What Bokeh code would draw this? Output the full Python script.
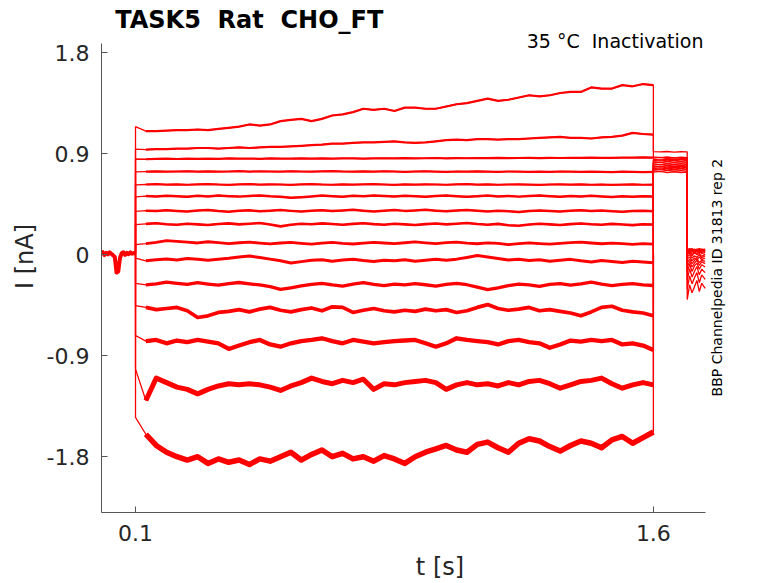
import math
from bokeh.plotting import figure
from bokeh.models import Label, FixedTicker
from bokeh.embed import file_html
from bokeh.resources import INLINE

# holding potential before the step (all sweeps overlap here)
t_hold = [0.000, 0.005, 0.010, 0.015, 0.020, 0.025, 0.030, 0.035, 0.040, 0.045, 0.050,
          0.055, 0.060, 0.065, 0.070, 0.075, 0.080, 0.085, 0.090, 0.095, 0.100]
i_hold = [0.010, 0.022, -0.004, 0.016, 0.003, 0.020, 0.008, -0.006, -0.020, -0.160, -0.150,
          -0.030, 0.012, 0.021, -0.002, 0.016, 0.004, 0.020, 0.008, 0.015, 0.010]

# test pulse, 0.1 s - 1.6 s
t_step = [0.10, 0.13, 0.16, 0.19, 0.22, 0.25, 0.28, 0.31, 0.34, 0.37,
          0.40, 0.43, 0.46, 0.49, 0.52, 0.55, 0.58, 0.61, 0.64, 0.67,
          0.70, 0.73, 0.76, 0.79, 0.82, 0.85, 0.88, 0.91, 0.94, 0.97,
          1.00, 1.03, 1.06, 1.09, 1.12, 1.15, 1.18, 1.21, 1.24, 1.27,
          1.30, 1.33, 1.36, 1.39, 1.42, 1.45, 1.48, 1.51, 1.54, 1.57, 1.60]

sweep_01 = [1.14, 1.10, 1.10, 1.105, 1.11, 1.11, 1.115, 1.11, 1.12, 1.13,
            1.14, 1.16, 1.15, 1.16, 1.19, 1.20, 1.21, 1.19, 1.21, 1.24,
            1.25, 1.27, 1.30, 1.29, 1.30, 1.28, 1.31, 1.31, 1.30, 1.30,
            1.32, 1.34, 1.35, 1.37, 1.39, 1.37, 1.38, 1.40, 1.42, 1.41,
            1.42, 1.44, 1.45, 1.45, 1.49, 1.48, 1.48, 1.51, 1.50, 1.52, 1.51]
sweep_02 = [0.94, 0.935, 0.94, 0.94, 0.945, 0.945, 0.95, 0.95, 0.945, 0.95,
            0.955, 0.95, 0.955, 0.96, 0.96, 0.965, 0.97, 0.975, 0.98, 0.99,
            0.99, 0.995, 1.0, 1.0, 1.005, 1.01, 1.0, 0.995, 1.0, 1.01,
            1.02, 1.025, 1.02, 1.03, 1.03, 1.025, 1.03, 1.03, 1.035, 1.04,
            1.045, 1.05, 1.04, 1.04, 1.035, 1.045, 1.05, 1.06, 1.085, 1.075, 1.07]
sweep_03 = [0.852, 0.850, 0.853, 0.855, 0.852, 0.856, 0.854, 0.855, 0.853, 0.857,
            0.855, 0.856, 0.854, 0.857, 0.855, 0.856, 0.858, 0.855, 0.857, 0.856,
            0.858, 0.857, 0.855, 0.858, 0.859, 0.857, 0.860, 0.858, 0.859, 0.861,
            0.858, 0.860, 0.859, 0.861, 0.860, 0.862, 0.860, 0.861, 0.863, 0.860,
            0.862, 0.861, 0.863, 0.862, 0.864, 0.862, 0.863, 0.865, 0.864, 0.866, 0.865]
sweep_04 = [0.738, 0.740, 0.742, 0.739, 0.741, 0.743, 0.740, 0.742, 0.739, 0.741,
            0.744, 0.740, 0.742, 0.741, 0.739, 0.743, 0.741, 0.740, 0.742, 0.744,
            0.741, 0.739, 0.742, 0.740, 0.743, 0.741, 0.738, 0.741, 0.743, 0.740,
            0.738, 0.741, 0.739, 0.742, 0.740, 0.738, 0.741, 0.739, 0.737, 0.740,
            0.738, 0.741, 0.739, 0.737, 0.740, 0.738, 0.736, 0.739, 0.737, 0.736, 0.738]
sweep_05 = [0.622, 0.625, 0.628, 0.624, 0.627, 0.623, 0.626, 0.629, 0.625, 0.622,
            0.626, 0.628, 0.624, 0.627, 0.625, 0.622, 0.626, 0.629, 0.625, 0.623,
            0.627, 0.624, 0.626, 0.628, 0.625, 0.622, 0.626, 0.624, 0.627, 0.625,
            0.623, 0.626, 0.628, 0.624, 0.626, 0.623, 0.625, 0.627, 0.624, 0.622,
            0.625, 0.627, 0.624, 0.626, 0.623, 0.625, 0.622, 0.624, 0.626, 0.623, 0.624]
sweep_06 = [0.515, 0.522, 0.518, 0.525, 0.520, 0.516, 0.524, 0.519, 0.527, 0.521,
            0.517, 0.523, 0.528, 0.520, 0.515, 0.507, 0.512, 0.519, 0.526, 0.521,
            0.516, 0.524, 0.520, 0.527, 0.522, 0.518, 0.525, 0.521, 0.516, 0.522,
            0.527, 0.520, 0.515, 0.521, 0.526, 0.519, 0.523, 0.517, 0.522, 0.527,
            0.521, 0.516, 0.522, 0.518, 0.524, 0.519, 0.514, 0.520, 0.516, 0.521, 0.517]
sweep_07 = [0.385, 0.392, 0.388, 0.396, 0.390, 0.384, 0.393, 0.398, 0.389, 0.383,
            0.391, 0.395, 0.387, 0.392, 0.398, 0.390, 0.384, 0.392, 0.396, 0.388,
            0.393, 0.399, 0.391, 0.385, 0.392, 0.397, 0.390, 0.394, 0.400, 0.392,
            0.386, 0.393, 0.398, 0.391, 0.385, 0.392, 0.387, 0.380, 0.388, 0.394,
            0.389, 0.384, 0.391, 0.396, 0.389, 0.393, 0.387, 0.382, 0.389, 0.392, 0.387]
sweep_08 = [0.268, 0.274, 0.280, 0.271, 0.266, 0.276, 0.270, 0.264, 0.273, 0.279,
            0.270, 0.275, 0.282, 0.268, 0.252, 0.266, 0.275, 0.271, 0.279, 0.273,
            0.266, 0.274, 0.280, 0.272, 0.267, 0.275, 0.270, 0.264, 0.272, 0.278,
            0.270, 0.276, 0.282, 0.273, 0.267, 0.274, 0.262, 0.258, 0.268, 0.275,
            0.270, 0.264, 0.272, 0.278, 0.271, 0.267, 0.274, 0.269, 0.263, 0.271, 0.268]
sweep_09 = [0.090, 0.098, 0.110, 0.125, 0.118, 0.112, 0.104, 0.115, 0.108, 0.098,
            0.106, 0.112, 0.103, 0.096, 0.104, 0.110, 0.101, 0.094, 0.102, 0.109,
            0.100, 0.095, 0.103, 0.110, 0.104, 0.098, 0.106, 0.113, 0.105, 0.099,
            0.107, 0.112, 0.103, 0.097, 0.105, 0.100, 0.090, 0.098, 0.105, 0.099,
            0.093, 0.101, 0.108, 0.112, 0.104, 0.097, 0.103, 0.098, 0.092, 0.099, 0.094]
sweep_10 = [-0.030, -0.055, -0.045, -0.038, -0.048, -0.035, -0.042, -0.050, -0.040, -0.032,
            -0.020, -0.012, -0.025, -0.040, -0.055, -0.075, -0.062, -0.050, -0.045, -0.058,
            -0.048, -0.040, -0.052, -0.060, -0.050, -0.055, -0.045, -0.058, -0.050, -0.042,
            -0.050, -0.040, -0.025, -0.008, -0.020, -0.035, -0.048, -0.040, -0.052, -0.045,
            -0.058, -0.050, -0.042, -0.055, -0.065, -0.052, -0.060, -0.070, -0.058, -0.065, -0.072]
sweep_11 = [-0.255, -0.270, -0.260, -0.245, -0.255, -0.265, -0.250, -0.262, -0.272, -0.258,
            -0.248, -0.260, -0.270, -0.285, -0.310, -0.295, -0.278, -0.265, -0.255, -0.270,
            -0.280, -0.262, -0.250, -0.265, -0.275, -0.262, -0.270, -0.258, -0.268, -0.280,
            -0.265, -0.255, -0.268, -0.290, -0.312, -0.295, -0.275, -0.262, -0.270, -0.282,
            -0.265, -0.258, -0.272, -0.260, -0.245, -0.262, -0.275, -0.265, -0.258, -0.270, -0.275]
sweep_12 = [-0.455, -0.470, -0.490, -0.480, -0.470, -0.500, -0.560, -0.545, -0.515, -0.505,
            -0.490, -0.510, -0.485, -0.470, -0.495, -0.510, -0.490, -0.475, -0.500, -0.465,
            -0.470, -0.515, -0.495, -0.480, -0.500, -0.510, -0.495, -0.505, -0.485, -0.500,
            -0.490, -0.515, -0.500, -0.470, -0.445, -0.480, -0.495, -0.485, -0.470, -0.500,
            -0.490, -0.505, -0.520, -0.545, -0.510, -0.470, -0.460, -0.495, -0.510, -0.520, -0.545]
sweep_13 = [-0.720, -0.770, -0.760, -0.790, -0.765, -0.780, -0.760, -0.775, -0.790, -0.840,
            -0.810, -0.780, -0.760, -0.800, -0.820, -0.790, -0.770, -0.760, -0.745, -0.770,
            -0.790, -0.760, -0.775, -0.790, -0.780, -0.770, -0.765, -0.760, -0.790, -0.820,
            -0.790, -0.745, -0.760, -0.770, -0.780, -0.800, -0.770, -0.760, -0.780, -0.790,
            -0.830, -0.800, -0.765, -0.775, -0.760, -0.770, -0.760, -0.800, -0.790, -0.810, -0.850]
sweep_14 = [-1.02, -1.30, -1.10, -1.14, -1.18, -1.20, -1.24, -1.20, -1.17, -1.15,
            -1.16, -1.15, -1.16, -1.18, -1.21, -1.17, -1.14, -1.10, -1.13, -1.15,
            -1.12, -1.14, -1.11, -1.20, -1.15, -1.16, -1.14, -1.13, -1.12, -1.14,
            -1.20, -1.16, -1.14, -1.16, -1.15, -1.17, -1.14, -1.16, -1.13, -1.12,
            -1.15, -1.19, -1.16, -1.13, -1.12, -1.10, -1.15, -1.19, -1.16, -1.14, -1.16]
sweep_15 = [-1.45, -1.60, -1.70, -1.76, -1.80, -1.83, -1.80, -1.86, -1.82, -1.85,
            -1.83, -1.87, -1.82, -1.84, -1.80, -1.76, -1.83, -1.78, -1.74, -1.80,
            -1.77, -1.82, -1.80, -1.84, -1.79, -1.82, -1.86, -1.80, -1.76, -1.73,
            -1.70, -1.74, -1.76, -1.69, -1.67, -1.72, -1.76, -1.68, -1.64, -1.66,
            -1.71, -1.75, -1.70, -1.66, -1.68, -1.72, -1.65, -1.62, -1.68, -1.63, -1.58]

# inactivation pulse after the step
t_post = [1.600, 1.620, 1.640, 1.660, 1.680, 1.698]
post_band = [
    [0.918, 0.915, 0.919, 0.914, 0.917, 0.915],
    [0.872, 0.865, 0.870, 0.862, 0.868, 0.864],
    [0.860, 0.866, 0.855, 0.862, 0.857, 0.861],
    [0.850, 0.843, 0.852, 0.846, 0.851, 0.844],
    [0.838, 0.845, 0.836, 0.842, 0.834, 0.840],
    [0.829, 0.822, 0.831, 0.825, 0.830, 0.823],
    [0.818, 0.824, 0.814, 0.820, 0.813, 0.819],
    [0.808, 0.801, 0.810, 0.803, 0.809, 0.802],
    [0.797, 0.804, 0.794, 0.800, 0.793, 0.799],
    [0.788, 0.781, 0.790, 0.783, 0.789, 0.782],
    [0.777, 0.784, 0.774, 0.780, 0.773, 0.779],
    [0.768, 0.761, 0.770, 0.763, 0.769, 0.762],
    [0.757, 0.764, 0.754, 0.760, 0.753, 0.759],
    [0.748, 0.741, 0.750, 0.743, 0.749, 0.742],
    [0.735, 0.742, 0.731, 0.738, 0.730, 0.736],
]

# back to holding
t_tail = [1.698, 1.705, 1.712, 1.719, 1.726, 1.733, 1.740, 1.750]
tail_band = [
    [0.045, 0.055, 0.035, 0.050, 0.040, 0.055, 0.045, 0.050],
    [0.035, 0.045, 0.055, 0.030, 0.050, 0.035, 0.050, 0.040],
    [0.050, 0.030, 0.045, 0.025, 0.045, 0.050, 0.030, 0.045],
    [0.025, 0.040, 0.020, 0.045, 0.030, 0.020, 0.040, 0.030],
    [0.030, 0.020, 0.040, 0.010, 0.035, 0.040, 0.020, 0.035],
    [0.010, 0.030, 0.000, 0.025, 0.010, 0.030, 0.010, 0.020],
    [0.000, 0.015, -0.010, 0.020, 0.000, 0.010, -0.015, 0.005],
    [-0.020, 0.000, -0.030, -0.010, -0.025, 0.000, -0.030, -0.010],
    [-0.040, -0.020, -0.055, -0.030, -0.050, -0.020, -0.045, -0.030],
    [-0.070, -0.040, -0.080, -0.050, -0.035, -0.070, -0.050, -0.060],
    [-0.110, -0.060, -0.110, -0.075, -0.050, -0.095, -0.065, -0.080],
    [-0.160, -0.085, -0.150, -0.100, -0.075, -0.130, -0.090, -0.110],
    [-0.230, -0.125, -0.200, -0.150, -0.105, -0.180, -0.130, -0.160],
    [-0.310, -0.190, -0.260, -0.205, -0.160, -0.250, -0.180, -0.220],
    [-0.400, -0.270, -0.340, -0.285, -0.230, -0.330, -0.255, -0.300],
]

x_ticks = [0.1, 1.6]
y_ticks = [-1.8, -0.9, 0, 0.9, 1.8]
y_tick_labels = ["-1.8", "-0.9", "0", "0.9", "1.8"]

sweeps = [sweep_01, sweep_02, sweep_03, sweep_04, sweep_05, sweep_06, sweep_07, sweep_08,
          sweep_09, sweep_10, sweep_11, sweep_12, sweep_13, sweep_14, sweep_15]
# noisier sweeps get a wider stroke
sweep_widths = [2.2, 2.2, 2.2, 2.2, 2.2, 2.5, 2.5, 2.6, 2.8, 3.0, 3.3, 3.7, 4.3, 5.0, 5.5]

RED = "#ff0000"
INK = "#262626"
NBSP = "\u00a0"  # keeps the double spaces of the original texts

# axes limits as in the MATLAB figure; the frame runs on to the canvas edge
# (top and right) so the texts placed there are not clipped
X_LIM = (0.0015, 1.75)
Y_LIM = (-2.2972, 1.879)

p = figure(width=778, height=583, x_range=(X_LIM[0], 1.9624), y_range=(Y_LIM[0], 2.2643),
           output_backend="svg", toolbar_location=None, title=None,
           min_border_left=101, min_border_right=0, min_border_top=0, min_border_bottom=70)
p.outline_line_color = None
p.xgrid.visible = False
p.ygrid.visible = False
p.background_fill_color = "white"
p.border_fill_color = "white"

# traces
p.line(t_hold, i_hold, color=RED, line_width=4, line_join="round")
for k, sweep in enumerate(sweeps):
    xs = [t_hold[-1]] + t_step + t_post + t_tail
    ys = [i_hold[-1]] + sweep + post_band[k] + tail_band[k]
    p.line(xs, ys, color=RED, line_width=1.3)
    p.line(t_step[1:], sweep[1:], color=RED, line_width=sweep_widths[k], line_join="round")

# axes, MATLAB look: ticks inside, no box
for ax in (p.xaxis[0], p.yaxis[0]):
    ax.axis_line_color = "#555555"
    ax.major_tick_line_color = "#555555"
    ax.major_tick_in = 6
    ax.major_tick_out = 0
    ax.minor_tick_line_color = None
    ax.major_label_text_font = "DejaVu Sans"
    ax.major_label_text_font_size = "22px"
    ax.major_label_text_color = INK
    ax.axis_label_text_font = "DejaVu Sans"
    ax.axis_label_text_font_size = "24px"
    ax.axis_label_text_font_style = "normal"
    ax.axis_label_text_color = INK
p.xaxis.bounds = X_LIM
p.yaxis.bounds = Y_LIM
p.xaxis.ticker = FixedTicker(ticks=x_ticks)
p.yaxis.ticker = FixedTicker(ticks=y_ticks)
p.yaxis.major_label_overrides = dict(zip(y_ticks, y_tick_labels))
p.xaxis.major_label_standoff = 12
p.yaxis.major_label_standoff = 12
p.xaxis.axis_label = "t [s]"
p.yaxis.axis_label = "I [nA]"
p.xaxis.axis_label_standoff = 9
p.yaxis.axis_label_standoff = 5

# texts
p.add_layout(Label(x=0.0412, y=2.095, text=f"TASK5{NBSP} Rat{NBSP} CHO_FT", text_font="DejaVu Sans",
                   text_font_style="bold", text_font_size="24px", text_color="black",
                   text_baseline="alphabetic"))
p.add_layout(Label(x=1.7451, y=1.90, text=f"35 °C{NBSP} Inactivation", text_font="DejaVu Sans",
                   text_font_size="19px", text_color="black", text_align="right",
                   text_baseline="alphabetic"))
p.add_layout(Label(x=1.7856, y=-0.2046, text="BBP Channelpedia ID 31813 rep 2",
                   text_font="DejaVu Sans", text_font_size="14px", text_color="black",
                   text_align="center", text_baseline="middle", angle=math.pi / 2))

open("out.html", "w").write(file_html(p, INLINE))
